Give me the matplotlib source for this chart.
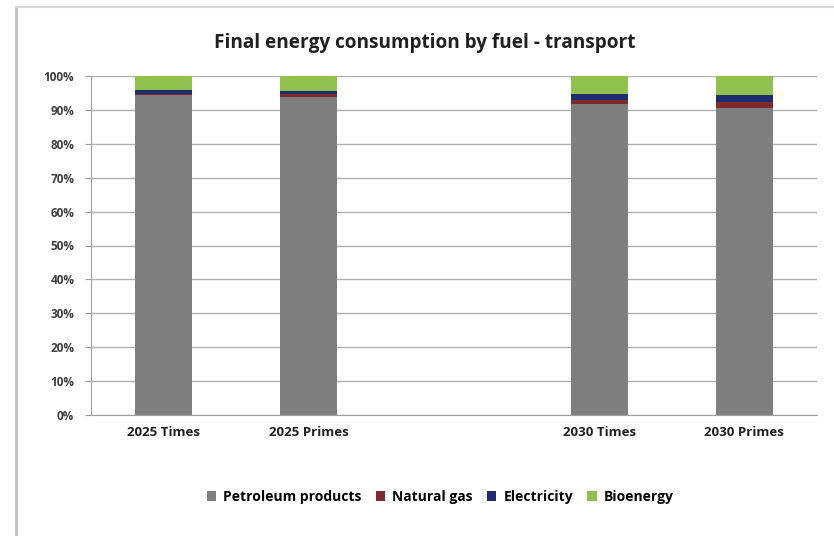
import matplotlib
matplotlib.use("Agg")
import matplotlib.pyplot as plt
from matplotlib.lines import Line2D
import numpy as np

categories = ["2025 Times", "2025 Primes", "", "2030 Times", "2030 Primes"]
petroleum = [94.5, 93.9, 0, 91.7, 90.6]
natural_gas = [0.3, 0.7, 0, 1.2, 1.8]
electricity = [1.2, 1.0, 0, 1.8, 2.0]
bioenergy = [4.0, 4.4, 0, 5.3, 5.6]
series_names = ["Petroleum products", "Natural gas", "Electricity", "Bioenergy"]
colors = ["#7f7f7f", "#7b2b2b", "#1f2d6e", "#92c050"]
yticks = list(range(0, 101, 10))

plt.rcParams['font.family'] = ['Open Sans', 'DejaVu Sans']

fig = plt.figure(figsize=(8.34, 5.36), dpi=100)
fig.lines.append(Line2D([16/834, 16/834], [0, 1 - 7/536], transform=fig.transFigure,
                        color="#c0c0c0", linewidth=2))
fig.lines.append(Line2D([16/834, 1], [1 - 7/536, 1 - 7/536], transform=fig.transFigure,
                        color="#d8d8d8", linewidth=1.5))
ax = fig.add_axes([91/834, 1 - 415/536, (817-91)/834, (415-76)/536])

x = np.arange(len(categories))
bottom = np.zeros(len(categories))
for vals, name, c in zip([petroleum, natural_gas, electricity, bioenergy], series_names, colors):
    ax.bar(x, vals, bottom=bottom, width=0.39, color=c, label=name, zorder=3)
    bottom += np.array(vals)

ax.set_ylim(0, 100)
ax.set_xlim(-0.5, len(categories) - 0.5)
ax.set_yticks(yticks)
ax.set_yticklabels([f"{t}%" for t in yticks], fontsize=8.5, fontweight="bold", color="#404040")
ax.set_xticks(x)
ax.set_xticklabels(categories, fontsize=9.5, fontweight="bold", color="#202020")
ax.tick_params(axis="x", length=0, pad=8)
ax.tick_params(axis="y", length=4, color="#a0a0a0", pad=8)
ax.grid(axis="y", color="#b0b0b0", linewidth=1, zorder=0)
for s in ["top", "right"]:
    ax.spines[s].set_visible(False)
ax.spines["left"].set_color("#a0a0a0")
ax.spines["bottom"].set_color("#a0a0a0")

fig.text(425/834, 1 - 43/536, "Final energy consumption by fuel - transport",
         ha="center", va="center", fontsize=13.7, fontweight="bold", color="#202020")

fig.legend(loc="center", bbox_to_anchor=(440/834, 1 - 497/536), ncol=4, frameon=False,
           handlelength=0.7, handleheight=0.7, handletextpad=0.5,
           columnspacing=1.0, prop={"weight": "bold", "size": 10})

fig.savefig("out.png", dpi=100)
